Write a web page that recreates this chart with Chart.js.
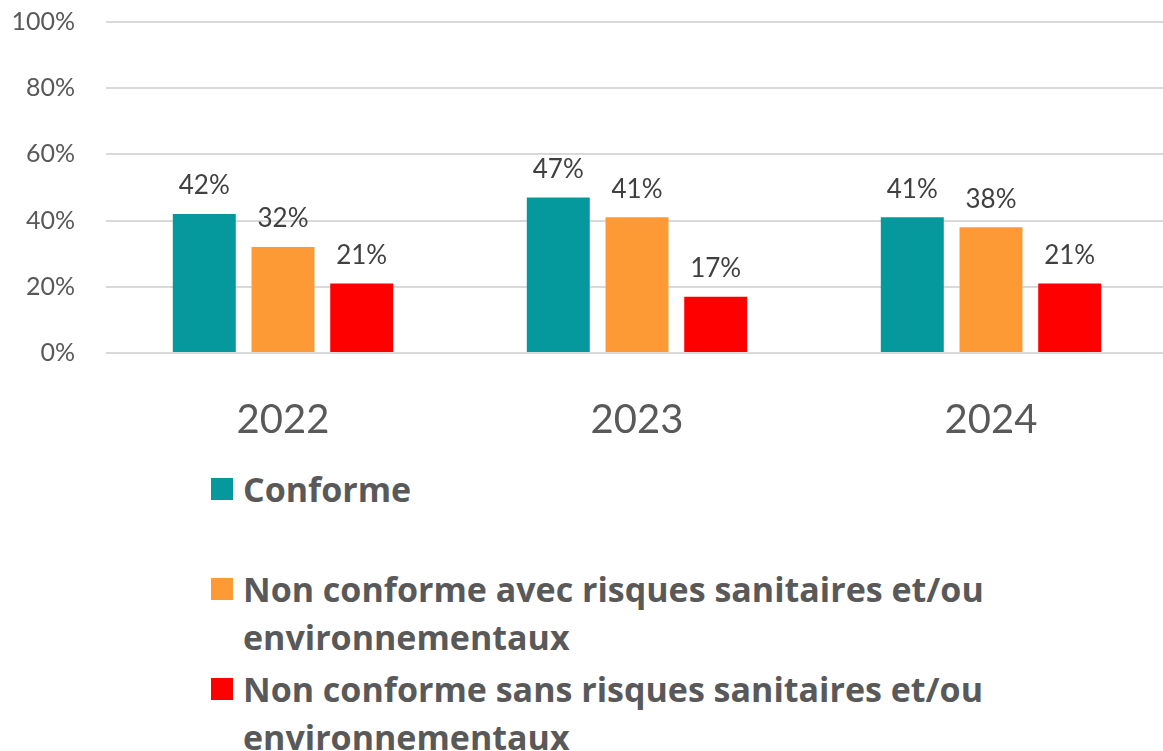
<!DOCTYPE html>
<html lang="fr">
<head>
    <meta charset="UTF-8">
    <title>Conformité 2022-2024</title>
    <style>
        * { margin: 0; padding: 0; box-sizing: border-box; }
        body {
            width: 1163px;
            height: 751px;
            overflow: hidden;
            background: #fff;
            font-family: Lato, sans-serif;
            position: relative;
        }
        .chart-box {
            position: absolute;
            left: 0;
            top: 0;
            width: 1168px;
            height: 450px;
        }
        .legend-item {
            position: absolute;
            left: 211px;
            color: #595959;
            font-family: 'Open Sans', sans-serif;
            font-weight: bold;
            font-size: 34px;
            line-height: 48px;
            white-space: nowrap;
        }
        .legend-item .swatch {
            position: absolute;
            left: 0;
            top: 13px;
            width: 22px;
            height: 22px;
        }
        .legend-item .text {
            margin-left: 32px;
            display: block;
        }
    </style>
</head>
<body>
    <div class="chart-box"><canvas id="barChart"></canvas></div>
    <div id="legend"></div>

    <script src="https://cdn.jsdelivr.net/npm/chart.js"></script>
    <script>
        // data
        const years = ['2022', '2023', '2024'];
        const conforme = [42, 47, 41];
        const avecRisques = [32, 41, 38];
        const sansRisques = [21, 17, 21];
        const yTicks = [0, 20, 40, 60, 80, 100];

        const seriesNames = [
            'Conforme',
            ['Non conforme avec risques sanitaires et/ou', 'environnementaux'],
            ['Non conforme sans risques sanitaires et/ou', 'environnementaux']
        ];
        const seriesColors = ['#05999D', '#FD9A35', '#FF0000'];

        // value labels drawn above each bar
        const valueLabels = {
            id: 'valueLabels',
            afterDatasetsDraw(chart) {
                const ctx = chart.ctx;
                ctx.save();
                ctx.font = '26px Lato';
                ctx.fillStyle = '#404040';
                ctx.textAlign = 'center';
                ctx.textBaseline = 'bottom';
                chart.data.datasets.forEach((ds, i) => {
                    chart.getDatasetMeta(i).data.forEach((bar, j) => {
                        ctx.fillText(ds.data[j] + '%', bar.x, bar.y - 15);
                    });
                });
                ctx.restore();
            }
        };

        new Chart(document.getElementById('barChart'), {
            type: 'bar',
            data: {
                labels: years,
                datasets: [
                    { label: 'Conforme', data: conforme, backgroundColor: seriesColors[0] },
                    { label: 'Non conforme avec risques sanitaires et/ou environnementaux', data: avecRisques, backgroundColor: seriesColors[1] },
                    { label: 'Non conforme sans risques sanitaires et/ou environnementaux', data: sansRisques, backgroundColor: seriesColors[2] }
                ]
            },
            options: {
                responsive: true,
                maintainAspectRatio: false,
                animation: false,
                datasets: {
                    bar: { categoryPercentage: 0.667, barPercentage: 0.8 }
                },
                layout: { padding: { top: 22, left: 0, right: 0, bottom: 0 } },
                plugins: {
                    legend: { display: false },
                    tooltip: { enabled: false }
                },
                scales: {
                    x: {
                        grid: { display: false },
                        border: { display: false },
                        ticks: {
                            color: '#595959',
                            font: { family: 'Lato', size: 40 },
                            padding: 35
                        },
                        afterFit(scale) {
                            scale.height = 97;
                            scale.paddingLeft = 0;
                            scale.paddingRight = 0;
                        }
                    },
                    y: {
                        min: 0,
                        max: 100,
                        afterBuildTicks(scale) {
                            scale.ticks = yTicks.map(v => ({ value: v }));
                        },
                        grid: { color: '#D9D9D9', lineWidth: 2, drawTicks: false },
                        border: { display: false },
                        ticks: {
                            color: '#595959',
                            font: { family: 'Lato', size: 25 },
                            padding: 31,
                            callback: v => v + '%'
                        },
                        afterFit(scale) {
                            scale.width = 106;
                            scale.paddingTop = 0;
                            scale.paddingBottom = 0;
                        }
                    }
                }
            },
            plugins: [valueLabels]
        });

        // html legend, one block per series
        const legendTops = [465, 565, 665];
        const legend = document.getElementById('legend');
        seriesNames.forEach((name, i) => {
            const item = document.createElement('div');
            item.className = 'legend-item';
            item.style.top = legendTops[i] + 'px';
            const sw = document.createElement('span');
            sw.className = 'swatch';
            sw.style.background = seriesColors[i];
            item.appendChild(sw);
            const lines = Array.isArray(name) ? name : [name];
            lines.forEach(l => {
                const t = document.createElement('span');
                t.className = 'text';
                t.textContent = l;
                item.appendChild(t);
            });
            legend.appendChild(item);
        });
    </script>
</body>
</html>
